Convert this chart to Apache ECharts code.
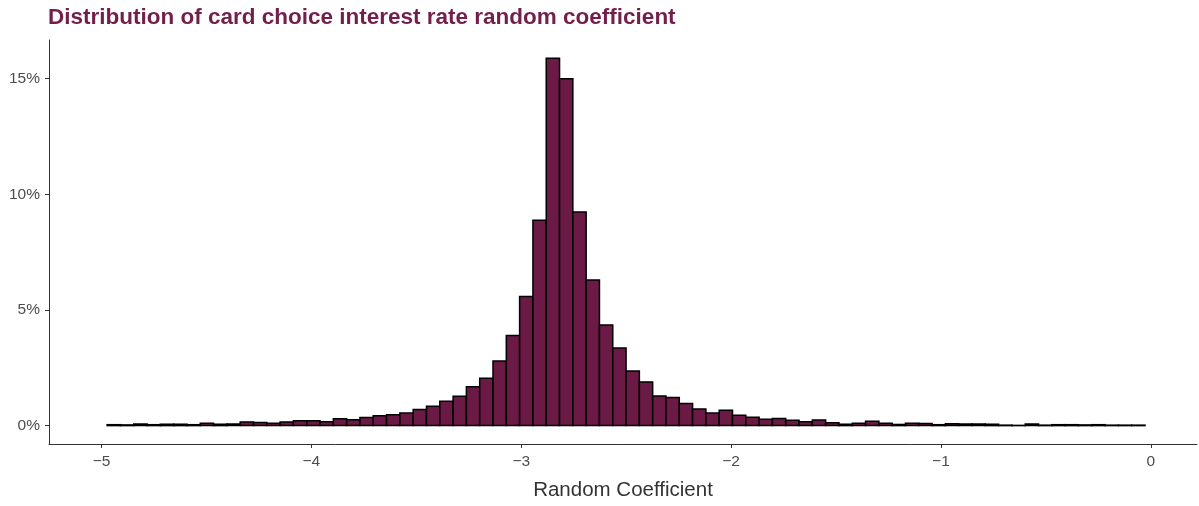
<!DOCTYPE html>
<html>
<head>
<meta charset="utf-8">
<script src="https://cdn.jsdelivr.net/npm/echarts@6/dist/echarts.min.js"></script>
<style>
  html, body { margin: 0; padding: 0; background: #fff; }
  #chart { width: 1199px; height: 506px; }
</style>
</head>
<body>
<div id="chart"></div>
<script>
// histogram bins: first bin left edge and bin width (coefficient units)
var binStart = -4.973;
var binWidth = 0.0634;
// share of draws in each bin, percent
var pct = [
  0.04, 0.03, 0.07, 0.04, 0.06, 0.06, 0.04, 0.10, 0.06, 0.07,
  0.16, 0.13, 0.10, 0.16, 0.21, 0.21, 0.17, 0.30, 0.25, 0.35,
  0.43, 0.47, 0.54, 0.70, 0.84, 1.05, 1.27, 1.68, 2.05, 2.79,
  3.90, 5.58, 8.88, 15.88, 15.00, 9.23, 6.30, 4.35, 3.35, 2.36,
  1.89, 1.28, 1.21, 0.96, 0.72, 0.54, 0.66, 0.45, 0.36, 0.28,
  0.31, 0.23, 0.17, 0.24, 0.12, 0.06, 0.10, 0.19, 0.10, 0.05,
  0.10, 0.09, 0.04, 0.08, 0.07, 0.07, 0.06, 0.02, 0.01, 0.07,
  0.02, 0.04, 0.04, 0.03, 0.04, 0.02, 0.02, 0.02
];
var xTicks = [-5, -4, -3, -2, -1, 0];
var yTicks = [0, 5, 10, 15];

var fontFam = "'Liberation Sans', Arial, sans-serif";
var barFill = '#6b1a45';

var bins = [];
for (var i = 0; i < pct.length; i++) {
  var x0 = binStart + i * binWidth;
  bins.push([x0, x0 + binWidth, pct[i]]);
}

function renderBar(params, api) {
  var top = api.coord([api.value(0), api.value(2)]);
  var bottom = api.coord([api.value(1), 0]);
  return {
    type: 'rect',
    shape: { x: top[0], y: top[1], width: bottom[0] - top[0], height: bottom[1] - top[1] },
    style: { fill: barFill, stroke: '#000', lineWidth: 1.5 }
  };
}

var chart = echarts.init(document.getElementById('chart'));
var option = {
  animation: false,
  textStyle: { fontFamily: fontFam },
  title: {
    text: 'Distribution of card choice interest rate random coefficient',
    left: 48,
    top: 6,
    padding: 0,
    textStyle: { fontSize: 22.5, fontWeight: 'bold', color: '#741f4b', fontFamily: fontFam }
  },
  grid: { left: 49, right: 2, top: 40, bottom: 57 },
  xAxis: {
    type: 'value',
    min: -5.25,
    max: 0.22,
    name: 'Random Coefficient',
    nameLocation: 'middle',
    nameGap: 36,
    nameTextStyle: { fontSize: 20.5, color: '#333', fontFamily: fontFam },
    axisLine: { show: true, onZero: false, lineStyle: { color: '#333', width: 1 } },
    axisTick: { show: true, length: 4, customValues: xTicks, lineStyle: { color: '#333' } },
    axisLabel: {
      customValues: xTicks,
      margin: 10,
      fontSize: 15.5,
      color: '#4d4d4d',
      formatter: function (v) { return v < 0 ? '\u2212' + Math.abs(v) : String(v); }
    },
    splitLine: { show: false }
  },
  yAxis: {
    type: 'value',
    min: -0.795,
    max: 16.67,
    axisLine: { show: true, onZero: false, lineStyle: { color: '#333', width: 1 } },
    axisTick: { show: true, length: 4, customValues: yTicks, lineStyle: { color: '#333' } },
    axisLabel: {
      customValues: yTicks,
      margin: 9,
      fontSize: 15.5,
      color: '#4d4d4d',
      formatter: function (v) { return v + '%'; }
    },
    splitLine: { show: false }
  },
  series: [{
    type: 'custom',
    renderItem: renderBar,
    encode: { x: [0, 1], y: 2 },
    data: bins
  }]
};
chart.setOption(option);
</script>
</body>
</html>
